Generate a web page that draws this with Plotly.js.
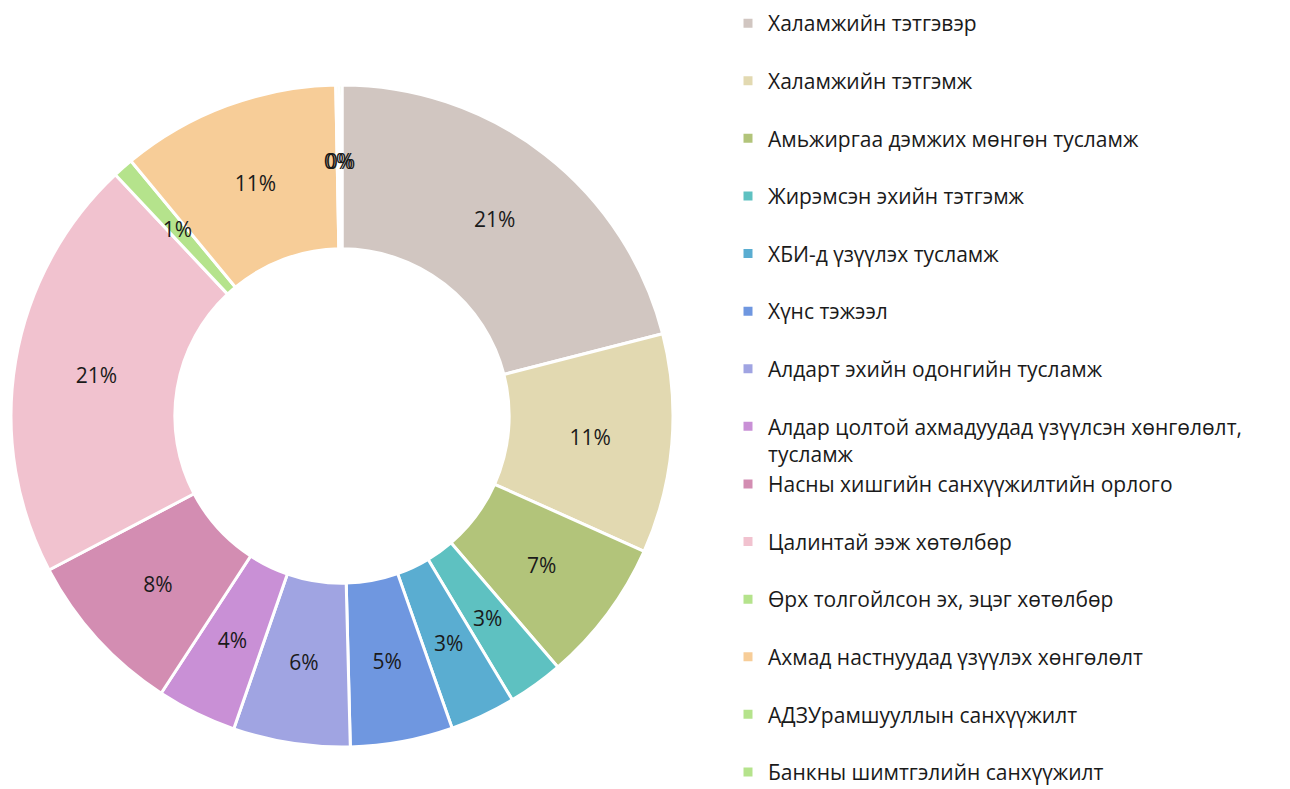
<!DOCTYPE html>
<html>
<head>
<meta charset="utf-8">
<script src="https://cdn.plot.ly/plotly-3.0.1.min.js"></script>
<style>html,body{margin:0;padding:0;background:#fff;}#chart{width:1290px;height:789px;}</style>
</head>
<body>
<div id="chart"></div>
<script>
const categories = [
  "Халамжийн тэтгэвэр",
  "Халамжийн тэтгэмж",
  "Амьжиргаа дэмжих мөнгөн тусламж",
  "Жирэмсэн эхийн тэтгэмж",
  "ХБИ-д үзүүлэх тусламж",
  "Хүнс тэжээл",
  "Алдарт эхийн одонгийн тусламж",
  "Алдар цолтой ахмадуудад үзүүлсэн хөнгөлөлт,<br>тусламж",
  "Насны хишгийн санхүүжилтийн орлого",
  "Цалинтай ээж хөтөлбөр",
  "Өрх толгойлсон эх, эцэг хөтөлбөр",
  "Ахмад настнуудад үзүүлэх хөнгөлөлт",
  "АДЗУрамшууллын санхүүжилт",
  "Банкны шимтгэлийн санхүүжилт"
];
const shares = [21.0, 10.7, 7.0, 2.7, 3.2, 5.0, 5.7, 3.9, 8.1, 20.7, 1.0, 10.7, 0.15, 0.15];
const colors = ["#D1C6C1", "#E2D9B1", "#B2C47A", "#5EC1C1", "#5AADD1", "#6F97E0", "#A0A4E2",
                "#C990D6", "#D38DB2", "#F1C2CF", "#B5E38C", "#F7CD98", "#B5E38C", "#B5E38C"];

// legend entries take two lines each, as in the reference
const legendLabels = categories.map(c => c.indexOf("<br>") >= 0 ? c : c + "<br>&nbsp;");

const FONT = "Open Sans, Noto Sans, sans-serif";
const W = 1290, H = 789;
const cx = 342, cy = 416, rOuter = 331;

function domainFor(r) {
  return {x: [(cx - r) / W, (cx + r) / W], y: [1 - (cy + r) / H, 1 - (cy - r) / H]};
}

const ring = {
  type: "pie",
  name: "ring",
  labels: legendLabels,
  values: shares,
  hole: 0.505,
  sort: false,
  direction: "clockwise",
  rotation: 0,
  marker: {colors: colors, line: {color: "#ffffff", width: 3}},
  textinfo: "none",
  domain: domainFor(rOuter),
  hoverinfo: "label+percent"
};

// transparent rings that carry the percentage labels at mid-radius
const PCT = "%{percent:.0%}";
function labelRing(rOut, rIn, showIf) {
  return {
    type: "pie",
    labels: legendLabels,
    values: shares,
    hole: rIn / rOut,
    sort: false,
    direction: "clockwise",
    rotation: 0,
    showlegend: false,
    marker: {colors: shares.map(() => "rgba(0,0,0,0)"), line: {width: 0}},
    texttemplate: shares.map(v => showIf(v) ? PCT : ""),
    textposition: "inside",
    insidetextorientation: "horizontal",
    textfont: {family: FONT, size: 21, color: "#1a1a1a"},
    domain: domainFor(rOut),
    hoverinfo: "skip"
  };
}
const wideLabels = labelRing(276, 222, v => v >= 3);
const thinLabels = labelRing(256, 242, v => v < 3);

const layout = {
  width: W,
  height: H,
  margin: {l: 0, r: 0, t: 0, b: 0},
  paper_bgcolor: "#ffffff",
  showlegend: true,
  uniformtext: {minsize: 21, mode: "show"},
  font: {family: FONT, color: "#1a1a1a"},
  legend: {
    x: 725 / W, xanchor: "left",
    y: 1, yanchor: "top",
    valign: "top",
    itemwidth: 30,
    borderwidth: 3,
    bordercolor: "rgba(255,255,255,0)",
    font: {family: FONT, size: 21, color: "#1a1a1a"},
    traceorder: "normal"
  }
};

Plotly.newPlot("chart", [ring, wideLabels, thinLabels], layout, {displayModeBar: false, staticPlot: true});
</script>
</body>
</html>
